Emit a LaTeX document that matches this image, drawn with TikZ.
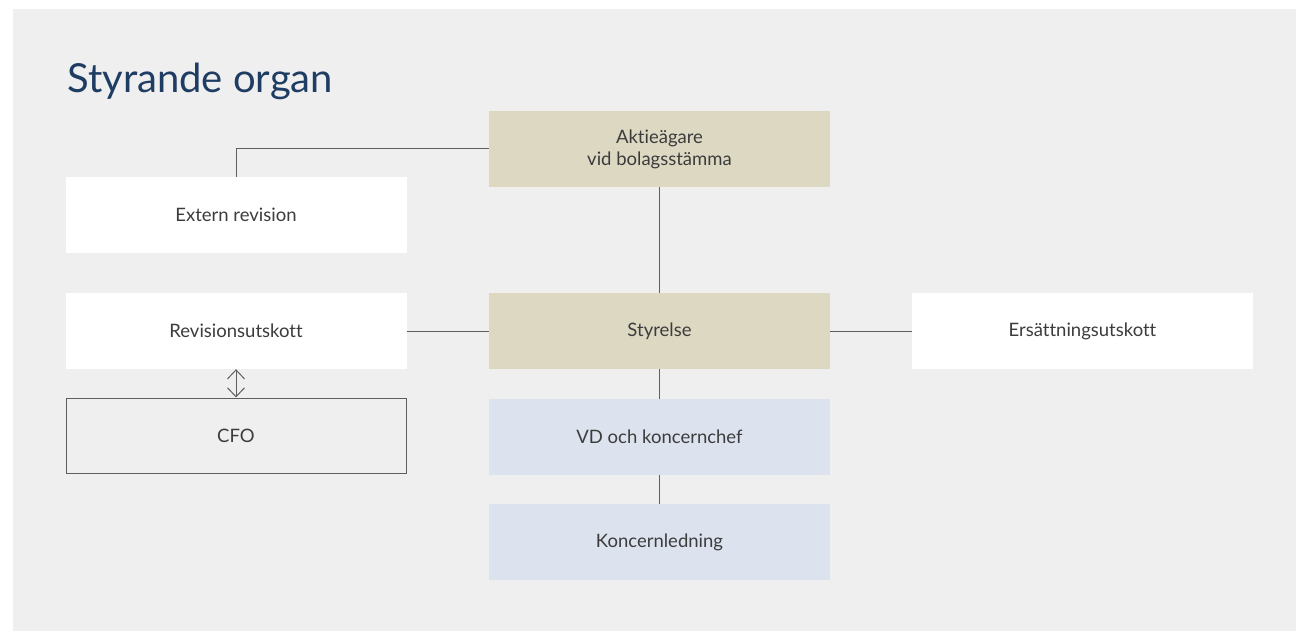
\documentclass[tikz,border=0pt]{standalone}
\usepackage{fontspec}
\setmainfont{Lato}[Ligatures=NoCommon]
\usepackage{tikz}
\usetikzlibrary{arrows.meta}

\definecolor{bggray}{HTML}{EFEFEF}
\definecolor{tanbox}{HTML}{DCD8C2}
\definecolor{bluebox}{HTML}{DCE3EE}
\definecolor{titleblue}{HTML}{1F3D63}
\definecolor{linegray}{HTML}{5E5E5E}
\definecolor{textgray}{HTML}{3C3C3C}

\begin{document}
\begin{tikzpicture}[x=1pt,y=-1pt,
  box/.style={minimum width=341pt,minimum height=76pt,inner sep=0pt,align=center,
    text=textgray,font=\fontsize{18.5}{22}\selectfont},
  ownerbox/.style={box,fill=tanbox},
  mgmtbox/.style={box,fill=bluebox},
  sidebox/.style={box,fill=white},
  cfobox/.style={box,draw=linegray,line width=1pt,minimum width=340pt,minimum height=75pt},
  link/.style={draw=linegray,line width=1pt}]
\useasboundingbox (0,0) rectangle (1296,631);
\fill[bggray] (13,9) rectangle (1296,631);
\node[anchor=base west,text=titleblue,font=\fontsize{40}{48}\selectfont,inner sep=0pt] (title) at (67,93) {Styrande organ};
% centre column
\node[ownerbox] (aktie) at (659.5,149) {Aktieägare\\vid bolagsstämma};
\node[ownerbox] (styrelse) at (659.5,331) {Styrelse};
\node[mgmtbox] (vd) at (659.5,437) {VD och koncernchef};
\node[mgmtbox] (ledning) at (659.5,542) {Koncernledning};
% side boxes
\node[sidebox] (extern) at (236,215) {Extern revision};
\node[sidebox] (revision) at (236,331) {Revisionsutskott};
\node[cfobox] (cfo) at (236,435.5) {CFO};
\node[sidebox] (ersattning) at (1082.5,331) {Ersättningsutskott};
% connectors
\draw[link] (aktie.west) -| (extern.north);
\draw[link] (aktie) -- (styrelse);
\draw[link] (styrelse) -- (vd);
\draw[link] (vd) -- (ledning);
\draw[link] (revision) -- (styrelse);
\draw[link] (styrelse) -- (ersattning);
\draw[link,{Straight Barb[length=9pt,width=17pt]}-{Straight Barb[length=9pt,width=17pt]}] (revision.south) -- (cfo.north);
\end{tikzpicture}
\end{document}
